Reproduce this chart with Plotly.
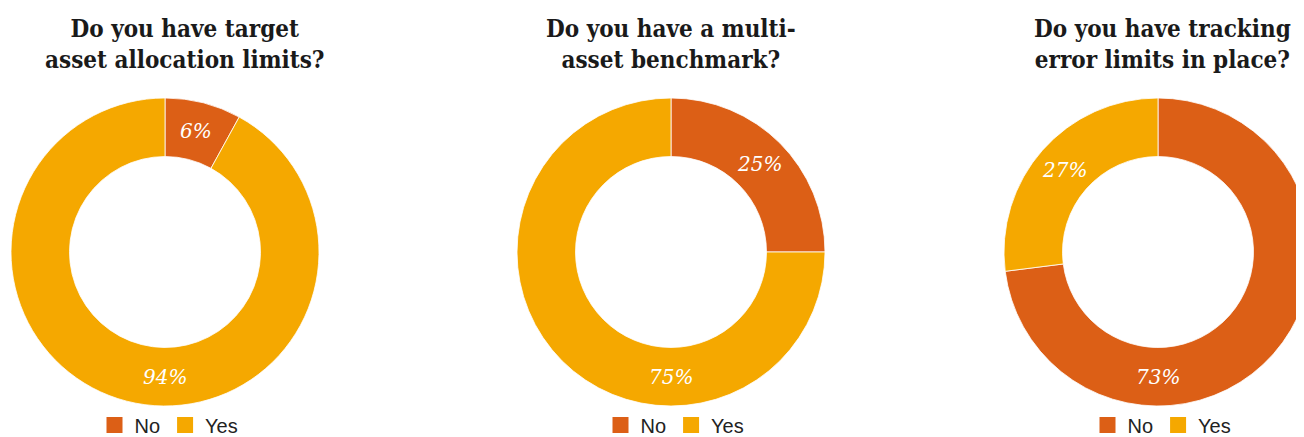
import math
import plotly.graph_objects as go

W, H = 1304, 437
OFF = 8  # page body margin offsets the figure inside the window

titles = [
    "Do you have target<br>asset allocation limits?",
    "Do you have a multi-<br>asset benchmark?",
    "Do you have tracking<br>error limits in place?",
]
categories = ["No", "Yes"]
values_1 = [8, 92]
values_2 = [25, 75]
values_3 = [73, 27]
labels_1 = ["6%", "94%"]
labels_2 = ["25%", "75%"]
labels_3 = ["73%", "27%"]

colors = ["#DC5F16", "#F5A800"]
hole = 0.62

# pie boxes in window pixels (x0, x1, ytop, ybottom)
boxes = [(11, 319, 98, 406), (517, 825, 98, 406), (1004, 1312, 98, 406)]
title_x = [185, 671, 1162]

fig = go.Figure()
annotations = []
all_values = [values_1, values_2, values_3]
all_labels = [labels_1, labels_2, labels_3]
legend_names = ["legend", "legend2", "legend3"]


def fx(px):
    return (px - OFF) / W


def fy(py):
    return 1 - (py - OFF) / H


for i, (vals, labs, (x0, x1, yt, yb)) in enumerate(zip(all_values, all_labels, boxes)):
    fig.add_trace(go.Pie(
        labels=categories, values=vals, hole=hole, sort=False, direction="clockwise",
        rotation=0, marker=dict(colors=colors, line=dict(color="white", width=0.8)),
        textinfo="none", hoverinfo="label+percent",
        domain=dict(x=[fx(x0), min(fx(x1), 1)], y=[fy(yb), fy(yt)]), showlegend=False,
    ))
    for cat, col in zip(categories, colors):
        fig.add_trace(go.Scatter(
            x=[None], y=[None], mode="markers", name=cat,
            marker=dict(symbol="square", size=18, color=col),
            legend=legend_names[i], showlegend=True, hoverinfo="skip",
        ))
    cx = (x0 + x1) / 2
    cy = (yt + yb) / 2
    R = min(x1 - x0, yb - yt) / 2
    rl = R * (1 + hole) / 2
    total = sum(vals)
    start = 0.0
    for v, lab in zip(vals, labs):
        a0 = start / total * 360
        a1 = (start + v) / total * 360
        start += v
        ang = 180.0 if a0 <= 180 <= a1 else (a0 + a1) / 2
        px = cx + rl * math.sin(math.radians(ang))
        py = cy - rl * math.cos(math.radians(ang))
        annotations.append(dict(
            x=fx(px), y=fy(py), xref="paper", yref="paper", showarrow=False,
            text="<i>" + lab + "</i>", xanchor="center", yanchor="middle",
            font=dict(family="DejaVu Serif", size=20, color="white"),
        ))
    annotations.append(dict(
        x=fx(title_x[i]), y=fy(44), xref="paper", yref="paper", showarrow=False,
        text="<b>" + titles[i] + "</b>", xanchor="center", yanchor="middle",
        font=dict(family="DejaVu Serif Condensed, DejaVu Serif", size=24, color="#1a1a1a"),
    ))

layout_legends = {}
for i, (x0, x1, yt, yb) in enumerate(boxes):
    cx = (x0 + x1) / 2
    layout_legends[legend_names[i]] = dict(
        orientation="h", xanchor="center", yanchor="middle",
        x=fx(cx + 4), y=fy(425),
        font=dict(family="Liberation Sans", size=20, color="#222222"),
        bgcolor="rgba(0,0,0,0)", itemclick=False, itemdoubleclick=False,
    )

fig.update_layout(
    width=W, height=H, margin=dict(l=0, r=0, t=0, b=0, autoexpand=False),
    paper_bgcolor="white", plot_bgcolor="white",
    xaxis=dict(visible=False), yaxis=dict(visible=False),
    annotations=annotations, **layout_legends,
)

fig.write_html("out.html")
